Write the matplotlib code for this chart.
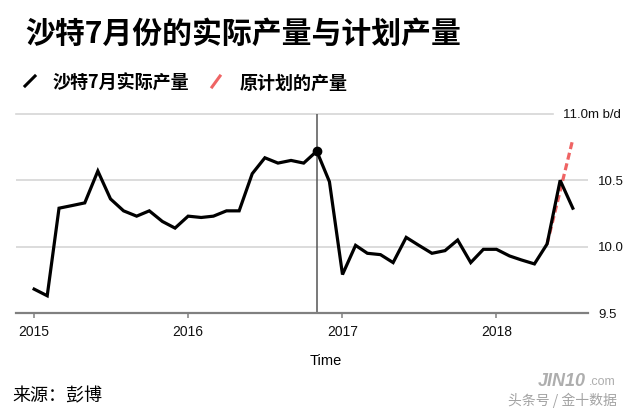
import matplotlib
matplotlib.use("Agg")
import matplotlib.pyplot as plt
from matplotlib.lines import Line2D
from matplotlib.transforms import ScaledTranslation
import pandas as pd

# ---- data ----
start_month = "2015-01-01"
actual = [9.68, 9.63, 10.29, 10.31, 10.33, 10.57, 10.36, 10.27, 10.23, 10.27, 10.19, 10.14,
          10.23, 10.22, 10.23, 10.27, 10.27, 10.55, 10.67, 10.63, 10.65, 10.63, 10.72, 10.49,
          9.79, 10.01, 9.95, 9.94, 9.88, 10.07, 10.01, 9.95, 9.97, 10.05, 9.88, 9.98,
          9.98, 9.93, 9.90, 9.87, 10.02, 10.50, 10.29]
planned_months = ["2018-05-01", "2018-06-01", "2018-07-01"]
planned = [10.02, 10.42, 10.81]
marker_month = "2016-11-01"
marker_value = 10.72
yticks = [9.5, 10.0, 10.5, 11.0]
ytick_labels = ["9.5", "10.0", "10.5", "11.0m b/d"]
xticks = ["2015-01-01", "2016-01-01", "2017-01-01", "2018-01-01"]
xtick_labels = ["2015", "2016", "2017", "2018"]

title = "沙特7月份的实际产量与计划产量"
legend_actual = "沙特7月实际产量"
legend_planned = "原计划的产量"
source = "来源：彭博"
xlabel = "Time"

months = pd.date_range(start_month, periods=len(actual), freq="MS")
pmonths = pd.to_datetime(planned_months)

W, H = 643, 412
def px(x, y):
    return (x / W, 1 - y / H)

fig = plt.figure(figsize=(W / 100, H / 100), dpi=100)
fig.patch.set_facecolor("white")
ax = fig.add_axes([16 / W, 1 - 313 / H, (588 - 16) / W, (313 - 114) / H])

ax.set_xlim(pd.Timestamp("2014-11-19"), pd.Timestamp("2018-08-06"))
ax.set_ylim(9.5, 11.0)

# gridlines
grid_c = "#d6d6d6"
for v in yticks[1:3]:
    ax.axhline(v, color=grid_c, lw=1.2, zorder=1)
ax.axhline(yticks[3], xmin=0, xmax=(553 - 16) / (588 - 16), color=grid_c, lw=1.2, zorder=1, clip_on=False)

ax.axvline(pd.Timestamp(marker_month), color="#555555", lw=1.1, zorder=2)

ax.plot(pmonths, planned, color="#ef6464", lw=2.3, dashes=(2.2, 1.2), zorder=3)
ax.plot(months, actual, color="black", lw=2.3, zorder=4, solid_joinstyle="miter")
ax.plot([pd.Timestamp(marker_month)], [marker_value], "o", color="black", ms=6, zorder=5)

for s in ["top", "left", "right"]:
    ax.spines[s].set_visible(False)
ax.spines["bottom"].set_color("#808080")
ax.spines["bottom"].set_linewidth(1.6)

ax.set_xticks(pd.to_datetime(xticks))
ax.set_xticklabels(xtick_labels, fontfamily="Liberation Sans", fontsize=10)
ax.tick_params(axis="x", length=3.6, width=1.1, color="#808080", pad=5, labelcolor="#111111")

ax.yaxis.tick_right()
ax.set_yticks(yticks)
ax.set_yticklabels(ytick_labels, fontfamily="Liberation Sans", fontsize=9.5)
ax.tick_params(axis="y", length=0, pad=7.2, labelcolor="#111111")
lbls = ax.get_yticklabels()
lbls[-1].set_transform(lbls[-1].get_transform() + ScaledTranslation(-35 / 100, 0, fig.dpi_scale_trans))

cjk = ["Noto Sans CJK SC", "DejaVu Sans"]
fig.text(*px(25, 34), title, fontfamily=cjk, fontsize=21.5, fontweight="bold", va="center", ha="left")

fig.add_artist(Line2D([25 / W, 35 / W], [1 - 86 / H, 1 - 76 / H], color="black", lw=2.2, transform=fig.transFigure))
fig.text(*px(53, 83.5), legend_actual, fontfamily=cjk, fontsize=13, fontweight="bold", va="center", ha="left")
fig.add_artist(Line2D([212 / W, 220 / W], [1 - 87 / H, 1 - 76 / H], color="#ef6464", lw=2.2, transform=fig.transFigure))
fig.text(*px(240, 83.5), legend_planned, fontfamily=cjk, fontsize=13, fontweight="bold", va="center", ha="left")

fig.text(*px(326, 361), xlabel, fontfamily="Liberation Sans", fontsize=10.5, va="center", ha="center")
fig.text(*px(12, 396), source, fontfamily=cjk, fontsize=13, va="center", ha="left")

# watermark
fig.text(*px(538, 381), "JIN10", fontfamily="Liberation Sans", fontsize=13, fontweight="bold",
         style="italic", color="#9a9a9a", alpha=0.8, va="center", ha="left")
fig.text(*px(589, 382), ".com", fontfamily="Liberation Sans", fontsize=9, color="#9a9a9a",
         alpha=0.8, va="center", ha="left")
fig.text(*px(508, 400), "头条号 / 金十数据", fontfamily=cjk, fontsize=10, color="#8c8c8c",
         alpha=0.8, va="center", ha="left")

fig.savefig("out.png", dpi=100, facecolor="white")
